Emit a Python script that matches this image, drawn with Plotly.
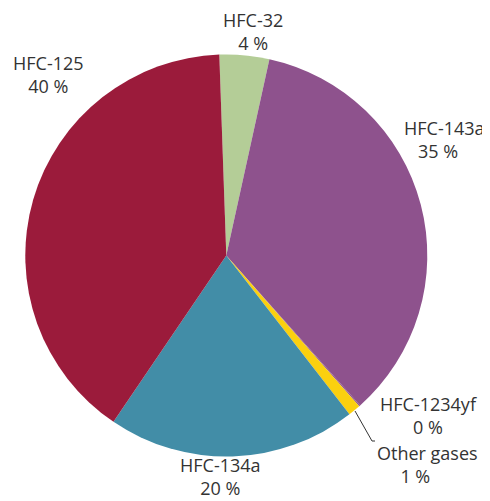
import plotly.graph_objects as go

# the page body has an 8px margin, so the figure sits 8px in from the window corner
OFFSET = 8
W, H = 490 - OFFSET, 501 - OFFSET

GASES = ["HFC-32", "HFC-143a", "HFC-1234yf", "Other gases", "HFC-134a", "HFC-125"]
SHARES = [4.0, 35.0, 0.1, 1.0, 20.0, 40.0]
COLORS = ["#b4cd97", "#8e528d", "#8e528d", "#fbd00f", "#428da7", "#9b1b3b"]

# label block: (centre x or left x, centre y, align, indent of the percent line)
LABELS = {
    "HFC-32": (253, 31, "center", 0),
    "HFC-143a": (402, 139, "left", 3),
    "HFC-1234yf": (428, 415, "center", 0),
    "Other gases": (375, 464, "left", 5),
    "HFC-134a": (220, 476, "center", 0),
    "HFC-125": (48, 74, "center", 0),
}

TEXT = "#333333"
FONT = "Open Sans, sans-serif"


def _px(x, y):
    return (x - OFFSET) / W, 1 - (y - OFFSET) / H


cx, cy, r = 226.3, 255.5, 201.0
(dx0, dy0), (dx1, dy1) = _px(cx - r, cy + r), _px(cx + r, cy - r)

fig = go.Figure(
    go.Pie(
        labels=GASES,
        values=SHARES,
        sort=False,
        direction="clockwise",
        rotation=-2.0,
        marker={"colors": COLORS, "line": {"width": 0}},
        textinfo="none",
        hoverinfo="label+percent",
        showlegend=False,
        domain={"x": [dx0, dx1], "y": [dy0, dy1]},
    )
)

for gas, share in zip(GASES, SHARES):
    lx, ly, align, indent = LABELS[gas]
    x, y = _px(lx, ly)
    fig.add_annotation(
        text=f"{gas}<br>{chr(160) * indent}{share:.0f} %",
        x=x,
        y=y,
        xref="paper",
        yref="paper",
        xanchor=align,
        yanchor="middle",
        align=align,
        showarrow=False,
        font={"family": FONT, "size": 18, "color": TEXT},
    )

# leader line for the small "Other gases" slice
x0, y0 = _px(355, 411)
x1, y1 = _px(372, 441)
x2, y2 = _px(375, 441)
fig.add_shape(
    type="path",
    path=f"M {x0} {y0} L {x1} {y1} L {x2} {y2}",
    xref="paper",
    yref="paper",
    line={"color": "#333333", "width": 1},
)

fig.update_layout(
    width=W,
    height=H,
    margin={"l": 0, "r": 0, "t": 0, "b": 0},
    paper_bgcolor="white",
    plot_bgcolor="white",
    font={"family": FONT, "color": TEXT},
)

fig.write_html("out.html")
